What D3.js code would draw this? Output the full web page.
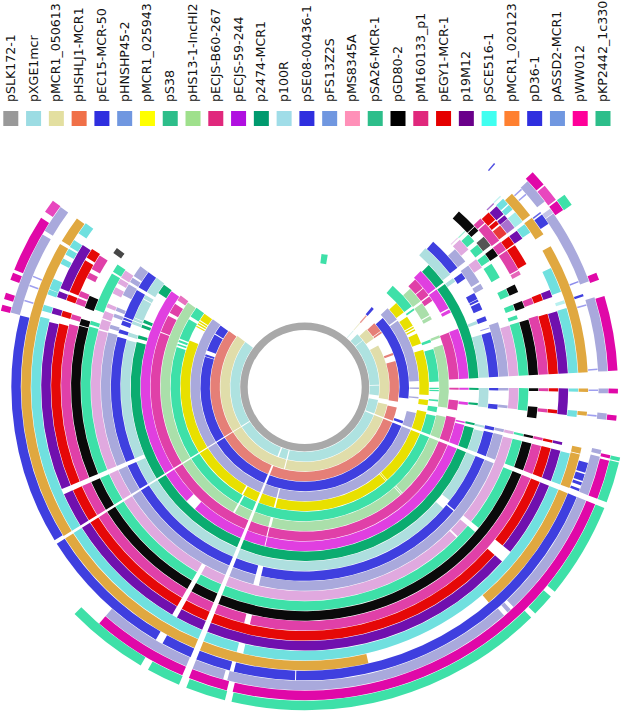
<!DOCTYPE html>
<html>
<head>
<meta charset="utf-8">
<style>
  body { margin: 0; background: #fff; }
  svg { display: block; }
  .legend text { font: 12.6px "DejaVu Sans"; fill: #111; }
</style>
<script src="https://cdn.jsdelivr.net/npm/d3@7"></script>
</head>
<body>
<svg width="622" height="712"></svg>
<script>
// plasmid names, inner ring first
var plasmids = ["pSLK172-1","pXGE1mcr","pMCR1_050613","pHSHLJ1-MCR1","pEC15-MCR-50","pHNSHP45-2","pMCR1_025943","pS38","pHS13-1-IncHI2","pECJS-B60-267","pECJS-59-244","p2474-MCR1","p100R","pSE08-00436-1","pFS13Z2S","pMS8345A","pSA26-MCR-1","pGD80-2","pM160133_p1","pEGY1-MCR-1","p19M12","pSCE516-1","pMCR1_020123","pD36-1","pASSD2-MCR1","pWW012","pKP2442_1c330"];
var legendColors = ["#999999","#9cdce3","#e3dfa0","#f07048","#2f2fdf","#7097e0","#ffff00","#2dbe8a","#9fe08c","#e0287c","#b010e0","#009a6e","#a0dde8","#2f2fdf","#7097e0","#ff90b8","#2dbe8a","#000000","#e0287c","#e50000","#6a008a","#40fff0","#ff8030","#2f2fdf","#7097e0","#ff0099","#2dbe8a"];
var ringColors = ["#a9a9a9","#aee2e0","#e0ddaa","#e57f77","#3f3fdf","#a9a9dc","#e8e000","#3ee0a8","#aadfaa","#e040a8","#e03fe0","#0bac70","#aedfdf","#3f3fdf","#a9a9dc","#e0a9df","#3ee0a8","#0a0a0a","#e040a8","#e50808","#7010ae","#70e0df","#e0a840","#3f3fdf","#a9a9dc","#e008a8","#3ee0a8"];

// matched regions per ring: [start, end, identity], degrees clockwise from the top
var ring00 = [[0,360]];
var ring01 = [[40.5,41.1,.6],[45,51],[51.4,88.3],[88.8,96.5],[100,110.9],[112,193.3],[194.3,200.3],[201.5,237.6],[238.4,307.2]];
var ring02 = [[40.5,41.1,.6],[47,55],[60.5,98.5],[102,111],[112,193.5],[194.3,237.7],[238.3,307.2]];
var ring03 = [[40.4,41.3,.8],[47.5,53.5],[54,55],[68.8,70.2],[74,99],[102.5,111],[112,201.7],[202.9,237.7],[238.3,306.5]];
var ring04 = [[40,41.5],[48.5,96.3],[109,110.5],[112,201.7],[202.9,237.7],[238.3,286.8],[287.2,288.3],[290.5,300.2],[300.8,306.2]];
var ring05 = [[46.5,53.8],[54.5,87],[90.3,91],[95,95.8],[103.2,110.9],[112,193.6],[194.3,201.7],[202.9,237.7],[238.3,306.4]];
var ring06 = [[47.5,53],[55.5,60.5],[61,61.7],[62.3,63],[64.5,69.5],[72.5,93.7],[96,98.5],[101.6,110.9],[112,138.3],[138.6,139.1],[139.4,193.6],[194.4,201.7],[202.9,209.8],[210.6,237.7],[238.3,292],[299,299.6],[300.2,300.9],[301.4,302.1],[302.6,306.2]];
var ring07 = [[7.2,9.9],[41,53],[54.2,55],[69.3,70.5],[73.5,87.7],[90.3,90.9],[91.3,91.8],[95.5,96.2],[98.6,100.8],[102.5,110.9],[112,201.7],[202.9,209],[209.8,237.7],[238.3,287.3],[288.1,288.8],[289.6,290.5],[291.2,300.3],[301.7,306.2]];
var ring08 = [[47,53.5],[54.5,60],[60.5,62],[69,70],[73,98.3],[102,110.9],[112,137.2],[137.5,138],[138.3,193.5],[194.6,201.7],[202.9,209],[209.8,237.7],[238.3,305.9]];
var ring09 = [[45.8,50],[50.3,53.5],[54,56],[69.3,87],[90.3,91],[95,98.7],[101.5,110.9],[112,194],[194.4,201.7],[202.9,237.7],[238.3,290.6],[291,297.6],[298.8,302.7],[304.3,306.4,.75]];
var ring10 = [[45,53],[53.5,61.3],[61.8,63],[69.2,87],[90.3,91],[95.3,96.3],[102.2,102.8],[103.4,110.9],[112,193.9],[194.2,201.7],[202.9,222],[226,237.7],[238.3,305.7]];
var ring11 = [[45.5,53],[53.7,87],[90.3,91],[95.3,96],[102,102.7],[103.6,110.9],[112,201.7],[202.9,237.7],[238.3,285],[286.2,287.3],[290,291],[291.7,292.7],[302.7,306]];
var ring12 = [[41,52.3],[53.7,55],[69,70],[73.5,87],[90.3,96.4],[102.2,102.8],[104,110.9],[112,128],[131.2,201.7],[202.9,237.7],[238.3,246],[247.2,284.8],[286,287.2],[290,291],[291.3,292],[292.2,298.5],[298.8,300],[301,306.4]];
var ring13 = [[41.5,52],[54,56],[61,63],[63.2,63.8],[64.2,66.4],[68.6,70],[72.1,72.4,.5],[73.5,87],[90.3,91],[95.2,96.6],[102,103],[103.7,110.9],[112,129.4],[129.8,193],[194.6,201.7],[202.9,237.7],[238.3,246],[247.2,285],[286.2,287.3],[288.7,290.1],[290.4,291],[291.3,300],[301,306.3]];
var ring14 = [[47.5,52],[53.4,59],[59.6,61.2],[71.5,87],[90.3,91],[95.2,96],[102,102.8],[103.7,110.9],[112,193],[194.6,201.7],[202.9,237.7],[238.3,246],[247.2,285.5],[286.7,287.8],[290.1,291.1],[292,293],[296.8,300.3],[301,302.4],[303,306.3]];
var ring15 = [[45.6,45.9,.6],[46.5,50],[53.3,56],[73.3,87],[90.3,96],[102,102.8],[104,129],[130.4,134.3],[134.8,201.7],[202.9,209],[210.2,237.7],[238.3,246],[247.2,285.4],[285.8,288.5],[288.8,290.8],[291.9,293],[296,297.8],[299,300.4],[300.8,303]];
var ring16 = [[45.7,46,.5],[47,49.3],[50.5,52.8],[53.7,55.7],[56.6,60.7],[64,66],[68.4,69.8],[71.3,72.3],[73.2,87],[90.3,96.1],[102.1,102.7],[104,110.9],[112,129],[130.4,201.7],[202.9,209],[210.2,237.7],[238.3,246],[247.2,285.7],[286.2,287.2],[290.3,300.5],[301,303.2]];
var ring17 = [[41.3,46.5],[46.7,48],[50,52.7,.7],[53.6,55.8],[64,66],[68.4,70.2],[73.2,87],[90.3,91],[94.9,97.7],[102.1,102.7],[104,110.9],[112,201.7],[202.9,209],[210.2,237.7],[238.3,246],[247.2,285.2],[285.4,287],[289.8,293],[305,306.5,.75]];
var ring18 = [[46.2,47.6],[47.9,53],[53.5,55.7],[56,61.2],[61.5,62.5,.8],[68.5,70],[73,87],[90.3,91],[95.2,96],[102.1,102.7],[104,110.9],[112,193],[194.4,201.7],[202.9,209],[210.2,237.7],[238.3,246],[247.2,285],[286.2,287.4],[290,291.4],[291.9,293.2],[296.6,298],[299,302.7]];
var ring19 = [[46.5,48.7],[49,50],[50.4,52.8,.8],[53.6,55.7],[56,61],[68.4,70],[73.2,87],[90.3,91],[95.2,96],[102.1,102.7],[104,110.9],[112,128.7],[131.5,201.7],[202.9,209],[210.2,237.7],[238.3,246],[247.2,284.5],[286.2,287.5],[290,291.4],[292,300],[300.7,303]];
var ring20 = [[45.7,46,.6],[46.7,49],[49.3,50.3],[50.4,52.8,.6],[53.6,55.7],[68.4,70],[73.3,87],[90.3,96.1],[102.1,102.7],[104,110.9],[112,128.7],[131.5,201.7],[202.9,209],[210.2,237.7],[238.3,246],[247.2,284.3],[286.2,287.5],[290,291.3],[292,302.6]];
var ring21 = [[45.6,45.9,.4],[46.5,48],[48.3,49.5],[50.3,52.8,.65],[53.5,55.6],[64.2,69.6],[71.5,72.2,.5],[73.2,87],[90.3,91],[95,96.3],[104.1,110.9],[112,193],[194.4,201.7],[202.9,237.7],[238.3,284.9],[286.2,287.5],[289.8,290.9],[291,293.3],[296.8,298],[299,300.4],[300.8,302.5],[304.2,306.8]];
var ring22 = [[47,52.7],[53.3,57.4],[60.2,87],[90.3,91],[95,95.8],[102.4,103.6],[103.8,110.9],[112,139.5],[167,201.7],[202.9,237.7],[238.3,300.3],[301,306.5]];
var ring23 = [[40.2,40.5,.9],[47.5,47.8,.5],[48.8,49.1,.5],[53.4,53.7,.8],[54,56.2],[68.8,69.1,.6],[71.5,72],[73.6,73.9,.5],[86.4,86.7,.5],[90.5,90.8,.5],[95.5,95.8,.5],[105,107],[107.3,108.7],[109,109.6],[110.3,110.8],[112,181.7],[181.9,194],[194.8,201.7],[202.9,209],[210.5,237.7],[238.5,284.1],[287,287.3,.5],[290.1,290.4,.5],[292,292.3,.5]];
var ring24 = [[47.3,52.3],[54,55,.7],[55.1,69.6],[72.8,87],[90.3,91.2],[95,96.2],[102,102.8],[103.3,110.9],[112,136.5],[137.2,138],[138.9,194.8],[195.6,201.7],[203,221],[284.2,300.2],[301,306.4]];
var ring25 = [[46.7,49.7],[50,53.3,.75],[53.6,55.6],[68.6,70],[73.1,87],[90.3,91.2],[95.2,96.2],[102.6,103.2],[103.6,110.9],[112,193.3],[194.4,201.7],[203,221],[284.1,285.2],[286.3,287.5],[290,291.4],[292,302.7],[304,306.5,.75]];
var ring26 = [[53.5,55.7],[102.6,103.3],[103.5,110.9],[112,129.3],[130.4,134.5],[135.5,193.1],[194.3,201.5],[202.9,209],[210.5,225.4]];

var rings = [ring00,ring01,ring02,ring03,ring04,ring05,ring06,ring07,ring08,ring09,ring10,ring11,ring12,ring13,ring14,ring15,ring16,ring17,ring18,ring19,ring20,ring21,ring22,ring23,ring24,ring25,ring26];

var svg = d3.select("svg");

// legend along the top
var legendX = d3.scalePoint().domain(plasmids).range([10.8, 603]);
var legend = svg.selectAll(".legend")
  .data(plasmids)
  .enter()
  .append("g")
  .attr("class", "legend")
  .attr("transform", function(d) { return "translate(" + legendX(d) + ",0)"; });
legend.append("rect")
  .attr("x", -7.5)
  .attr("y", 111)
  .attr("width", 15)
  .attr("height", 15)
  .attr("fill", function(d, i) { return legendColors[i]; });
legend.append("text")
  .attr("transform", "translate(4,102) rotate(-90)")
  .text(function(d) { return d; });

// rings
var angle = d3.scaleLinear().domain([0, 360]).range([0, 2 * Math.PI]);
var radius = d3.scaleLinear().domain([1, 27]).range([65, 323.7]);
var arc = d3.arc();
var g = svg.append("g").attr("transform", "translate(304.7,387)");

rings.forEach(function(segs, i) {
  var inner = i == 0 ? 57 : radius(i);
  var outer = radius(i + 1);
  g.append("g")
    .selectAll("path")
    .data(segs)
    .enter()
    .append("path")
    .attr("d", function(d) {
      return arc({
        innerRadius: inner,
        outerRadius: outer - 0.5,
        startAngle: angle(d[0]),
        endAngle: angle(d[1])
      });
    })
    .attr("fill", function(d) {
      // weak matches fade towards white
      return d.length > 2 ? d3.interpolateRgb("#ffffff", ringColors[i])(d[2]) : ringColors[i];
    });
});
</script>
</body>
</html>
